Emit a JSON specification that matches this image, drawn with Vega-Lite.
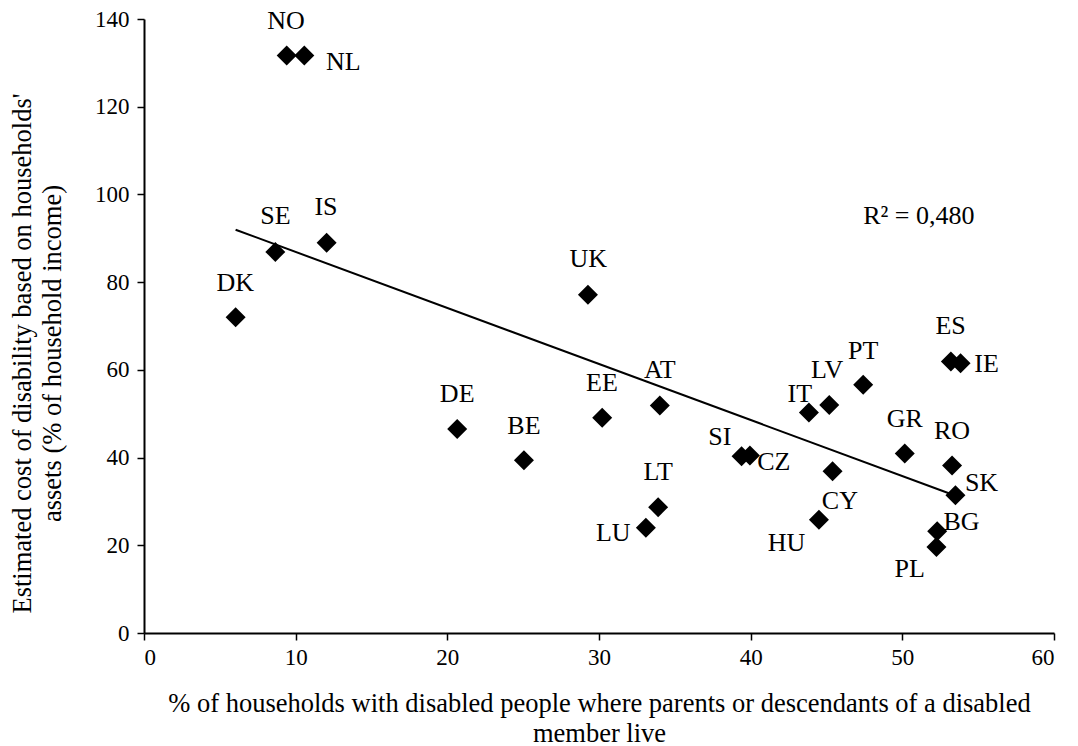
{
  "$schema": "https://vega.github.io/schema/vega-lite/v6.json",
  "width": 910,
  "height": 614,
  "autosize": {"type": "none"},
  "padding": {"left": 144, "top": 19, "right": 24, "bottom": 113},
  "background": "white",
  "config": {
    "view": {"stroke": null},
    "font": "Liberation Serif",
    "axis": {
      "grid": false,
      "domainColor": "black",
      "domainWidth": 2,
      "tickColor": "black",
      "tickWidth": 1.5,
      "tickSize": 7,
      "labelFont": "Liberation Serif",
      "labelFontSize": 23,
      "labelColor": "black",
      "titleFont": "Liberation Serif",
      "titleFontSize": 26.5,
      "titleFontWeight": "normal",
      "titleColor": "black"
    }
  },
  "datasets": {
    "points": [
      {"country": "NO", "x": 9.41, "y": 131.7, "lx": 9.37, "ly": 139.5},
      {"country": "NL", "x": 10.57, "y": 131.7, "lx": 13.14, "ly": 130.2},
      {"country": "SE", "x": 8.66, "y": 86.9, "lx": 8.66, "ly": 95.0},
      {"country": "IS", "x": 12.04, "y": 89.0, "lx": 12.0, "ly": 97.1},
      {"country": "DK", "x": 6.04, "y": 72.0, "lx": 6.02, "ly": 79.9},
      {"country": "DE", "x": 20.65, "y": 46.5, "lx": 20.65, "ly": 54.4},
      {"country": "BE", "x": 25.05, "y": 39.4, "lx": 25.05, "ly": 47.3},
      {"country": "UK", "x": 29.27, "y": 77.1, "lx": 29.29, "ly": 85.2},
      {"country": "EE", "x": 30.21, "y": 49.1, "lx": 30.19, "ly": 57.0},
      {"country": "AT", "x": 34.01, "y": 51.9, "lx": 34.01, "ly": 59.9},
      {"country": "LT", "x": 33.9, "y": 28.7, "lx": 33.9, "ly": 36.7},
      {"country": "LU", "x": 33.09, "y": 24.0, "lx": 30.94, "ly": 22.8},
      {"country": "SI", "x": 39.4, "y": 40.3, "lx": 37.97, "ly": 44.8},
      {"country": "CZ", "x": 39.95, "y": 40.5, "lx": 41.53, "ly": 39.0},
      {"country": "IT", "x": 43.84, "y": 50.3, "lx": 43.24, "ly": 54.4},
      {"country": "LV", "x": 45.18, "y": 52.0, "lx": 45.04, "ly": 59.9},
      {"country": "PT", "x": 47.42, "y": 56.6, "lx": 47.42, "ly": 64.4},
      {"country": "CY", "x": 45.4, "y": 36.9, "lx": 45.88, "ly": 30.2},
      {"country": "HU", "x": 44.5, "y": 25.8, "lx": 42.37, "ly": 20.5},
      {"country": "ES", "x": 53.2, "y": 61.9, "lx": 53.18, "ly": 69.9},
      {"country": "IE", "x": 53.84, "y": 61.5, "lx": 55.55, "ly": 61.4},
      {"country": "GR", "x": 50.16, "y": 40.9, "lx": 50.16, "ly": 48.9},
      {"country": "RO", "x": 53.28, "y": 38.2, "lx": 53.28, "ly": 46.0},
      {"country": "SK", "x": 53.5, "y": 31.4, "lx": 55.22, "ly": 34.1},
      {"country": "BG", "x": 52.3, "y": 23.2, "lx": 53.9, "ly": 25.3},
      {"country": "PL", "x": 52.25, "y": 19.6, "lx": 50.49, "ly": 14.5}
    ],
    "trend": [
      {"x": 6.04, "y": 91.95},
      {"x": 53.2, "y": 31.7}
    ],
    "note": [
      {"x": 51.09, "y": 95.0, "text": "R² = 0,480"}
    ]
  },
  "layer": [
    {
      "data": {"name": "trend"},
      "mark": {"type": "line", "color": "black", "strokeWidth": 2},
      "encoding": {
        "x": {
          "field": "x", "type": "quantitative",
          "scale": {"domain": [0, 60], "nice": false},
          "axis": {
            "values": [0, 10, 20, 30, 40, 50, 60],
            "labelPadding": 6,
            "title": ["% of households with disabled people where parents or descendants of a disabled", "member live"],
            "titlePadding": 21,
            "titleLineHeight": 30
          }
        },
        "y": {
          "field": "y", "type": "quantitative",
          "scale": {"domain": [0, 140], "nice": false},
          "axis": {
            "values": [0, 20, 40, 60, 80, 100, 120, 140],
            "labelPadding": 8,
            "title": ["Estimated cost of disability based on households'", "assets  (% of household income)"],
            "titlePadding": 28,
            "titleLineHeight": 30,
            "titleY": 334
          }
        }
      }
    },
    {
      "data": {"name": "points"},
      "mark": {"type": "point", "shape": "diamond", "filled": true, "color": "black", "size": 400, "opacity": 1},
      "encoding": {
        "x": {"field": "x", "type": "quantitative"},
        "y": {"field": "y", "type": "quantitative"}
      }
    },
    {
      "data": {"name": "points"},
      "mark": {"type": "text", "font": "Liberation Serif", "fontSize": 26, "color": "black", "baseline": "middle", "align": "center"},
      "encoding": {
        "x": {"field": "lx", "type": "quantitative"},
        "y": {"field": "ly", "type": "quantitative"},
        "text": {"field": "country"}
      }
    },
    {
      "data": {"name": "note"},
      "mark": {"type": "text", "font": "Liberation Serif", "fontSize": 26, "color": "black", "baseline": "middle", "align": "center"},
      "encoding": {
        "x": {"field": "x", "type": "quantitative"},
        "y": {"field": "y", "type": "quantitative"},
        "text": {"field": "text"}
      }
    }
  ]
}
